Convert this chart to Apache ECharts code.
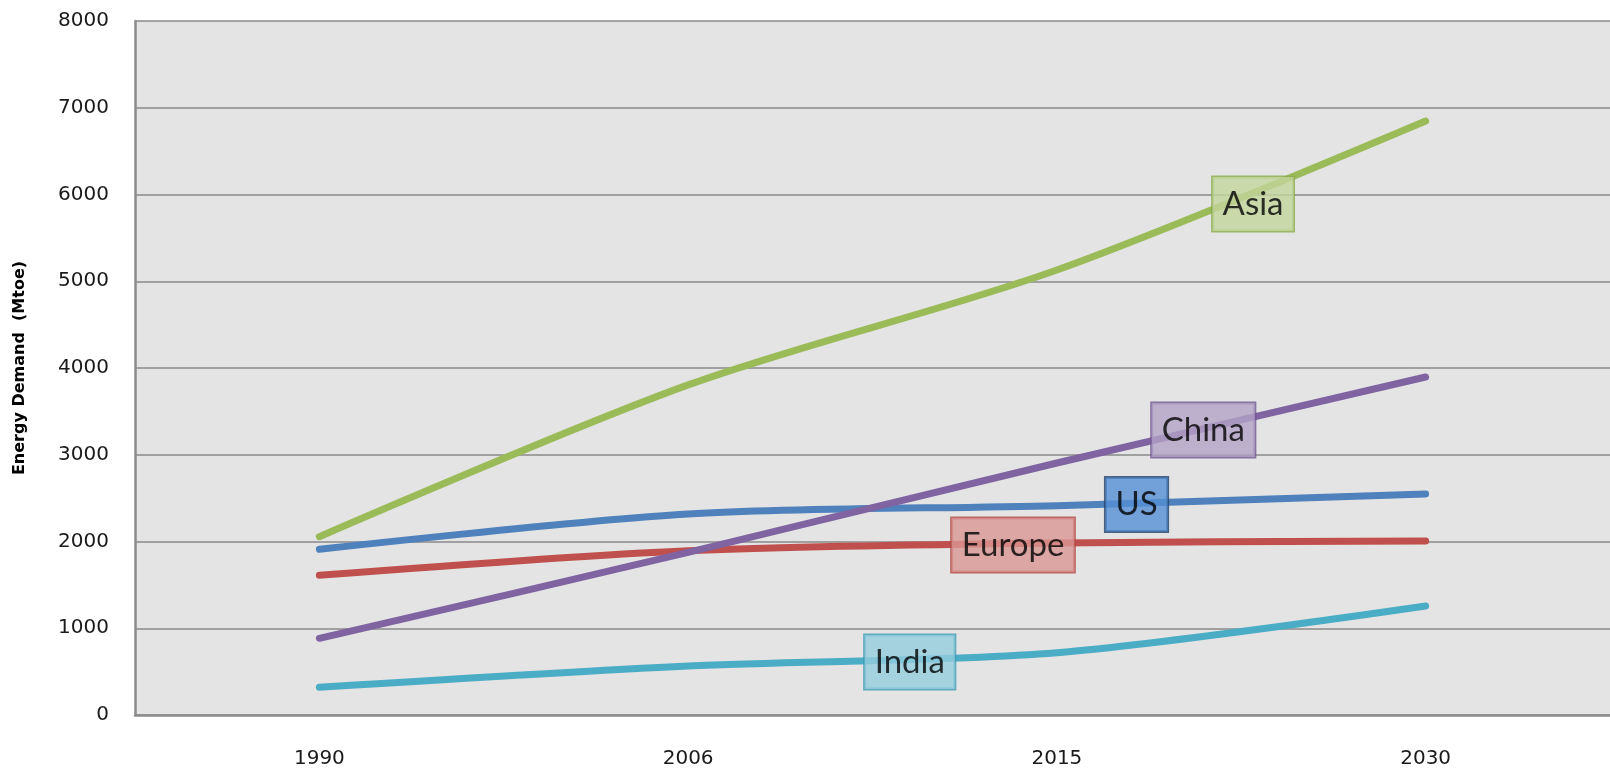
<!DOCTYPE html>
<html>
<head>
<meta charset="utf-8">
<script src="https://cdn.jsdelivr.net/npm/echarts@6/dist/echarts.min.js"></script>
<style>
html,body{margin:0;padding:0;background:#fff;}
#chart{width:1610px;height:769px;}
</style>
</head>
<body>
<div id="chart"></div>
<script>
// ---- data ----
const years = ['1990', '2006', '2015', '2030'];
const asia   = [2055, 3805, 5130, 6847];
const china  = [884, 1875, 2905, 3896];
const us     = [1910, 2317, 2413, 2548];
const europe = [1610, 1894, 1983, 2005];
const india  = [319, 565, 718, 1256];
const yTicks = [0, 1000, 2000, 3000, 4000, 5000, 6000, 7000, 8000];
// label boxes: [name, position along category index, value]
const labelAsia   = ['Asia',   2.532, 5890];
const labelChina  = ['China',  2.397, 3285];
const labelUS     = ['US',     2.216, 2427];
const labelEurope = ['Europe', 1.881, 1960];
const labelIndia  = ['India',  1.601, 611];

const chart = echarts.init(document.getElementById('chart'));

function lineSeries(name, data, color) {
  return {
    name: name, type: 'line', data: data, smooth: 0.3,
    symbol: 'none', xAxisIndex: 0, yAxisIndex: 0,
    lineStyle: { color: color, width: 7, cap: 'round', join: 'round' },
    z: 3
  };
}
function labelSeries(lbl, fill, border) {
  return {
    type: 'scatter', xAxisIndex: 1, yAxisIndex: 0,
    symbolSize: 0, silent: true, z: 10,
    data: [[lbl[1], lbl[2]]],
    label: {
      show: true, position: 'inside',
      formatter: lbl[0],
      fontFamily: 'Lato', fontSize: 33, color: '#000',
      backgroundColor: fill, borderColor: border, borderWidth: 1.5,
      padding: [9, 10, 9, 10], lineHeight: 36
    }
  };
}

chart.setOption({
  animation: false,
  grid: {
    left: 135, top: 21, width: 1487, bottom: 54,
    show: true, backgroundColor: '#e4e4e4', borderWidth: 0
  },
  xAxis: [{
    type: 'category', data: years, boundaryGap: true,
    axisLine: { show: true, onZero: false, lineStyle: { color: '#8c8c8c', width: 2.5 } },
    axisTick: { show: false },
    axisLabel: { fontFamily: 'DejaVu Sans', fontSize: 20, color: '#1a1a1a', margin: 34 }
  }, {
    type: 'value', min: -0.5, max: 3.5, show: false,
    axisLine: { show: false, onZero: false }, splitLine: { show: false }
  }],
  yAxis: {
    type: 'value', min: 0, max: 8000, interval: 1000,
    name: 'Energy Demand  (Mtoe)', nameLocation: 'middle', nameGap: 107,
    nameTextStyle: { fontFamily: 'DejaVu Sans', fontWeight: 'bold', fontSize: 16, color: '#000' },
    axisLine: { show: true, onZero: false, lineStyle: { color: '#8c8c8c', width: 2.5 } },
    axisTick: { show: false },
    axisLabel: { fontFamily: 'DejaVu Sans', fontSize: 20, color: '#1a1a1a', margin: 26,
      formatter: function (v) { return yTicks.indexOf(v) >= 0 ? String(v) : ''; } },
    splitLine: { show: true, lineStyle: { color: '#8a8a8a', width: 1.5 } }
  },
  series: [
    lineSeries('Asia', asia, '#9bbb59'),
    lineSeries('US', us, '#4f81bd'),
    lineSeries('Europe', europe, '#c0504d'),
    lineSeries('China', china, '#8064a2'),
    lineSeries('India', india, '#4bacc6'),
    labelSeries(labelAsia, '#c3d69b', '#8aab4c'),
    labelSeries(labelChina, '#b3a2c7', '#6f5591'),
    labelSeries(labelUS, '#558ed5', '#1f3f66'),
    labelSeries(labelEurope, '#d99694', '#b04743'),
    labelSeries(labelIndia, '#93cddd', '#3f9bb3')
  ]
});
</script>
</body>
</html>
